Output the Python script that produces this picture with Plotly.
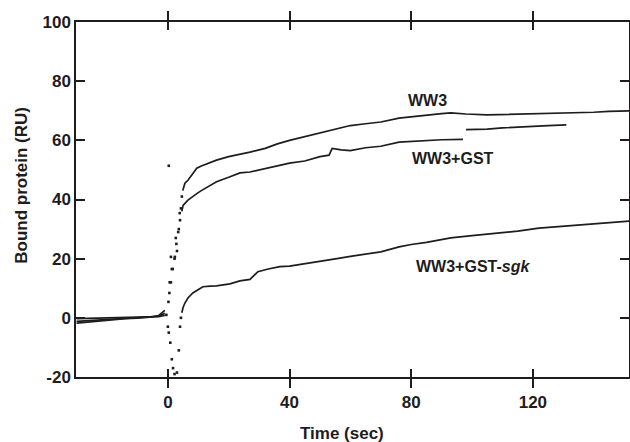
import plotly.graph_objects as go

# ---------------- data ----------------
base_t = [-30, -26, -22, -18, -14, -10, -6, -3, -1]
ww3_base = [-0.3, -0.2, 0, 0, 0.1, 0.2, 0.3, 0.4, 0.8]
gst_base = [-1.2, -0.9, -0.6, -0.3, -0.1, 0.1, 0.3, 0.6, 1.5]
sgk_base = [-1.8, -1.4, -1.0, -0.6, -0.3, -0.1, 0.2, 0.8, 2.5]

ww3_tr_t = [0.3, 0.6, 1.0, 1.3, 2.3, 2.6, 3.0, 3.6, 3.9, 4.3, 4.6]
ww3_tr_v = [51.4, 12, 20.6, 16.5, 20.6, 27, 22.6, 30, 35.4, 37, 41]
gst_tr_t = [0.2, 0.5, 1.0, 1.6, 2.2, 2.8, 3.4, 4.0]
gst_tr_v = [5.4, 8.4, 12, 16.5, 20, 25, 29, 33]
sgk_tr_t = [-0.5, 0, 0.3, 0.8, 1.3, 1.7, 2.2, 3.0, 3.6, 4.0, 4.3]
sgk_tr_v = [1, -3, -5, -8.4, -14, -17, -19, -18.5, -11, -3, 0]

ww3_t = [4.9, 5.6, 6.6, 8, 9.5, 11, 12.8, 16, 20, 24, 27, 32, 36, 40, 45, 50, 55,
         60, 65, 70, 76, 80, 85, 90, 93, 98, 105, 110, 115, 120, 125, 130, 135,
         140, 145, 150, 153]
ww3_v = [43, 45.5, 46.5, 48.5, 50.6, 51.3, 52, 53.3, 54.5, 55.3, 56, 57.3, 58.8,
         60, 61.3, 62.5, 63.7, 65, 65.6, 66.2, 67.5, 68, 68.5, 69, 69.3, 68.9,
         68.6, 68.7, 68.8, 68.9, 69, 69.2, 69.3, 69.5, 69.8, 70, 70]

gst_t = [4.6, 5.0, 6.6, 8, 9.5, 11, 12.8, 16, 20, 23.7, 27, 32, 36, 40, 45, 50,
         53, 54, 57, 60, 65, 70, 76, 80, 85, 90, 97,
         None, 98, 105, 110, 115, 120, 125, 131]
gst_v = [36, 38, 39.8, 41, 42, 43, 44, 46, 47.5, 49, 49.3, 50.5, 51.5, 52.3, 53,
         54.5, 55, 57.3, 56.8, 56.5, 57.5, 58, 59.4, 59.6, 60, 60.2, 60.3,
         None, 63.6, 63.8, 64.2, 64.5, 64.8, 65, 65.2]

sgk_t = [4.6, 5.0, 5.6, 6.6, 8.2, 10, 11.5, 14, 16, 20.4, 23.7, 27, 29.6, 33,
         36.8, 40, 46.7, 50, 56.6, 60, 66, 70, 76, 80, 85, 93, 100, 107, 115,
         122, 130, 137, 145, 152]
sgk_v = [1.7, 3.5, 5, 6.7, 8.4, 9.5, 10.5, 10.7, 10.8, 11.5, 12.5, 13, 15.6,
         16.5, 17.3, 17.5, 18.5, 19, 20.2, 20.8, 21.6, 22.3, 24, 24.8, 25.5, 27,
         27.8, 28.5, 29.3, 30.3, 31, 31.5, 32.2, 32.7]

x_ticks = [0, 40, 80, 120]
x_ticktext = ["0", "40", "80", "120"]
y_ticks = [-20, 0, 20, 40, 60, 80, 100]
y_ticktext = ["-20", "0", "20", "40", "60", "80", "100"]

labels = ["WW3", "WW3+GST", "WW3+GST-<i>sgk</i>"]
label_x = [85.2, 93.8, 100.3]
label_y = [73.5, 54.0, 17.2]

x_title = "Time (sec)"
y_title = "Bound protein (RU)"

# ---------------- figure ----------------
INK = "#1e1c1d"
FONT = "Liberation Sans, Arial, sans-serif"
fig = go.Figure()

for bt, bv in [(base_t, ww3_base), (base_t, gst_base), (base_t, sgk_base)]:
    fig.add_trace(go.Scatter(x=bt, y=bv, mode="lines",
                             line=dict(color=INK, width=1.7), showlegend=False))
for tt, tv in [(ww3_tr_t, ww3_tr_v), (gst_tr_t, gst_tr_v), (sgk_tr_t, sgk_tr_v)]:
    fig.add_trace(go.Scatter(x=tt, y=tv, mode="markers",
                             marker=dict(color=INK, size=2.6, symbol="square"),
                             showlegend=False))
for rt, rv in [(ww3_t, ww3_v), (gst_t, gst_v), (sgk_t, sgk_v)]:
    fig.add_trace(go.Scatter(x=rt, y=rv, mode="lines", connectgaps=False,
                             line=dict(color=INK, width=1.7), showlegend=False))

# invisible trace on overlay axis to create inner tick marks
fig.add_trace(go.Scatter(x=[0], y=[0], xaxis="x2", mode="markers",
                         marker=dict(opacity=0), showlegend=False, hoverinfo="skip"))

for txt, lx, ly in zip(labels, label_x, label_y):
    fig.add_annotation(x=lx, y=ly, text=txt, showarrow=False,
                       font=dict(family=FONT, size=16, color=INK, weight="bold"))

# axis titles as paper annotations (exact placement)
fig.add_annotation(xref="paper", yref="paper", x=0.481, y=-0.158, text=x_title,
                   showarrow=False, xanchor="center", yanchor="middle",
                   font=dict(family=FONT, size=17, color=INK, weight="bold"))
fig.add_annotation(xref="paper", yref="paper", x=-0.098, y=0.541, text=y_title,
                   showarrow=False, textangle=-90, xanchor="center", yanchor="middle",
                   font=dict(family=FONT, size=17, color=INK, weight="bold"))

xr = [-30.2, 151.6]
tickfont = dict(family=FONT, size=17, color=INK, weight="bold")
fig.update_layout(
    width=630, height=442,
    margin=dict(l=76, r=1, t=22, b=65),
    paper_bgcolor="white", plot_bgcolor="white",
    font=dict(family=FONT, size=17, color=INK, weight="bold"),
    xaxis=dict(range=xr, tickvals=x_ticks, ticktext=x_ticktext, ticks="outside",
               ticklen=9, tickwidth=1.5, tickcolor=INK, showline=True,
               linewidth=1.5, linecolor=INK, mirror="ticks", showgrid=False,
               zeroline=False, automargin=False, tickfont=tickfont),
    xaxis2=dict(range=xr, tickvals=x_ticks, ticks="inside", ticklen=8,
                tickwidth=1.5, tickcolor=INK, overlaying="x", mirror="ticks",
                showline=False, showgrid=False, zeroline=False,
                showticklabels=False, automargin=False),
    yaxis=dict(range=[-20, 100], tickvals=y_ticks, ticktext=y_ticktext,
               ticks="inside", ticklen=9, tickwidth=1.5, tickcolor=INK,
               showline=True, linewidth=1.5, linecolor=INK, mirror="ticks",
               showgrid=False, zeroline=False, automargin=False,
               tickfont=tickfont),
)

fig.write_html("out.html", config={"displayModeBar": False},
               post_script="document.body.style.margin='0';document.body.style.overflow='hidden';")
